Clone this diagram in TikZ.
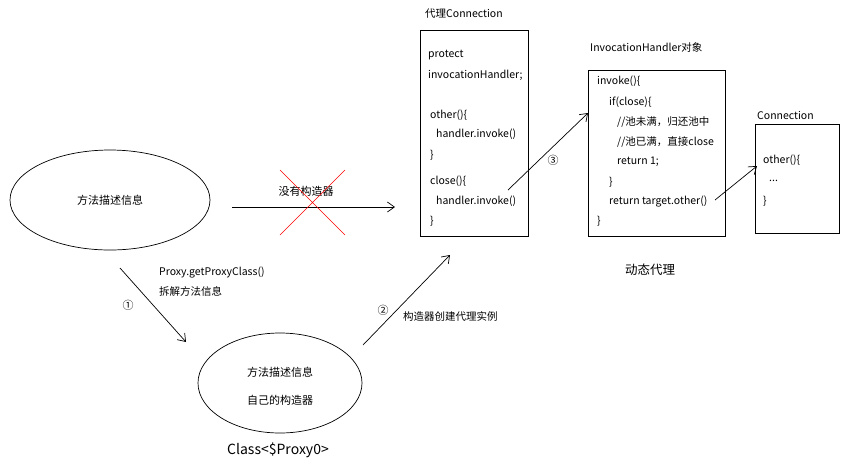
\documentclass[tikz,border=0pt]{standalone}
\usepackage{fontspec}
\setmainfont{Noto Sans CJK SC}
\usetikzlibrary{arrows.meta}
\tikzset{
 arr/.style={-{Straight Barb[length=7pt,width=10pt]},line width=0.7pt},
 box/.style={draw,line width=0.7pt},
 txt/.style={anchor=west,inner sep=0pt,font=\fontsize{10.5}{12}\selectfont},
 ctxt/.style={inner sep=0pt,font=\fontsize{11}{13}\selectfont},
 ell/.style={draw,ellipse,line width=0.7pt}
}
\begin{document}
\begin{tikzpicture}[x=1pt,y=-1pt]
\useasboundingbox[fill=white] (0,0) rectangle (857,467);
% ellipse 1
\draw[line width=0.7pt] (110,200) ellipse [x radius=100,y radius=50];
\node[ctxt] (e1) at (110,200) {方法描述信息};
\coordinate (a1s) at (232,207); \coordinate (a1e) at (395,207);
\draw[arr] (a1s) -- (a1e);
\node[ctxt] (nc) at (306,191) {没有构造器};
\draw[red,line width=0.6pt] (280,170) -- (345,235) (345,170) -- (280,235);
% proxy box
\node[box,minimum width=108,minimum height=206,anchor=north west] (pb) at (420,30) {};
\node[txt] at (425,14) {代理Connection};
\node[txt] at (428,55) {protect};
\node[txt] at (428,75) {invocationHandler;};
\node[txt] at (430,115) {other()\{};
\node[txt] at (436,134) {handler.invoke()};
\node[txt] at (430,155) {\}};
\node[txt] at (430,181) {close()\{};
\node[txt] at (436,201) {handler.invoke()};
\node[txt] at (430,221) {\}};
% handler box
\node[box,minimum width=137,minimum height=166,anchor=north west] (hb) at (588,70) {};
\node[txt] at (590,47) {InvocationHandler对象};
\node[txt] at (597,81) {invoke()\{};
\node[txt] at (609,102) {if(close)\{};
\node[txt] at (617,122) {//池未满，归还池中};
\node[txt] at (617,142) {//池已满，直接close};
\node[txt] at (617,162) {return 1;};
\node[txt] at (609,182) {\}};
\node[txt] at (609,202) {return target.other()};
\node[txt] at (597,221) {\}};
\coordinate (a3s) at (508,190); \coordinate (a3e) at (588,113);
\draw[arr] (a3s) -- (a3e);
\node[ctxt] at (553,160) {③};
% connection box
\node[box,minimum width=84,minimum height=109,anchor=north west] (cb) at (755,124) {};
\node[txt] at (757,115) {Connection};
\node[txt] at (763,160) {other()\{};
\node[txt] at (769,181) {...};
\node[txt] at (763,201) {\}};
\coordinate (a4s) at (715,200); \coordinate (a4e) at (757,166);
\draw[arr] (a4s) -- (a4e);
\node[ctxt,font=\fontsize{12.5}{14}\selectfont] at (650,270) {动态代理};
% arrow 1
\coordinate (b1s) at (120,268); \coordinate (b1e) at (186,342);
\draw[arr] (b1s) -- (b1e);
\node[txt] at (159,273) {Proxy.getProxyClass()};
\node[txt] at (159,291) {拆解方法信息};
\node[ctxt] at (128,305) {①};
% ellipse 2
\draw[line width=0.7pt] (280,383) ellipse [x radius=82,y radius=50];
\node[ctxt] (e2) at (280,372) {方法描述信息};
\node[ctxt] at (280,400) {自己的构造器};
\node[ctxt,font=\fontsize{14}{16}\selectfont] at (278,450) {Class<\$Proxy0>};
% arrow 2
\coordinate (b2s) at (363,345); \coordinate (b2e) at (450,255);
\draw[arr] (b2s) -- (b2e);
\node[ctxt] at (383,310) {②};
\node[txt] at (403,316) {构造器创建代理实例};
\end{tikzpicture}
\end{document}
